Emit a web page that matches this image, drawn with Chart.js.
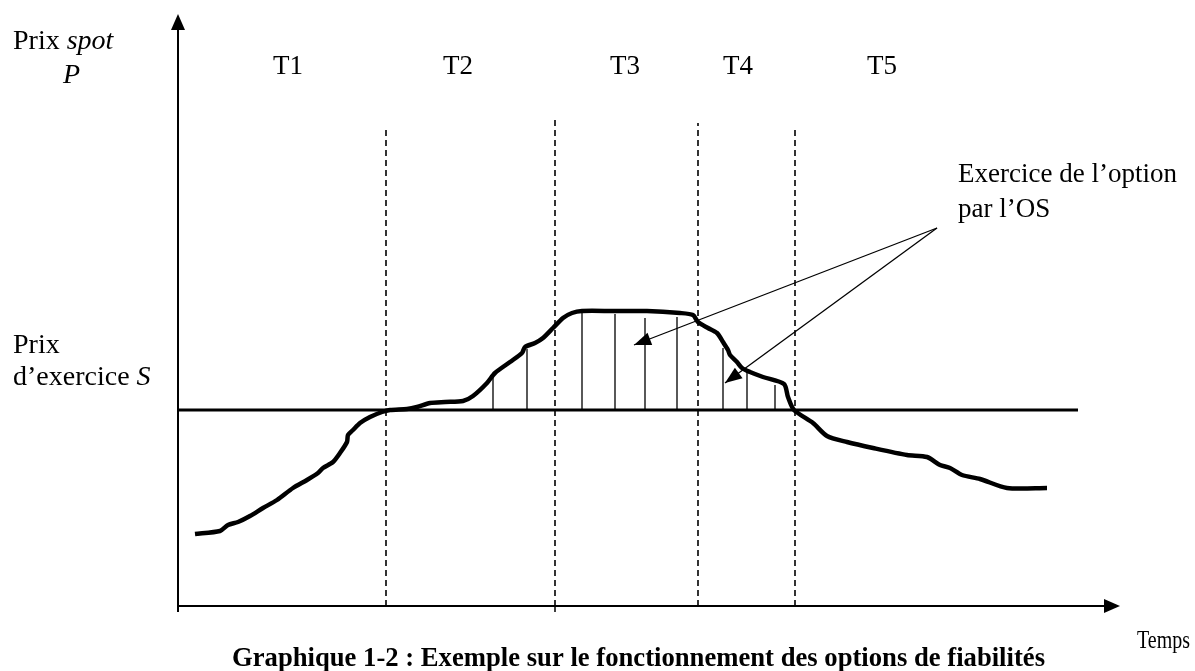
<!DOCTYPE html>
<html>
<head>
<meta charset="utf-8">
<script src="https://cdn.jsdelivr.net/npm/chart.js@4/dist/chart.umd.min.js"></script>
<style>
  html, body { margin: 0; padding: 0; background: #fff; }
  #wrap { width: 1195px; height: 671px; position: relative; }
</style>
</head>
<body>
<div id="wrap"><canvas id="chart"></canvas></div>
<script>
// Spot price curve (time, price)
const curveX = [17, 42, 50, 60, 72, 85, 99, 115, 129, 140, 145, 155, 162, 169, 170, 175, 182, 192, 204, 212,
    229, 239, 252, 267, 285, 295, 309, 317, 332, 344, 347, 357, 365, 375, 385, 394, 404, 435, 469, 502,
    515, 520, 530, 539, 545, 550, 552, 559, 564, 572, 585, 606, 610, 616, 635, 649, 669, 695, 729, 749,
    762, 772, 784, 802, 829, 869];
const curveY = [72, 75, 81, 84, 90, 98, 106, 118, 126, 133, 138, 144, 153, 164, 171, 176, 183, 189, 194, 196,
    197, 199, 203, 204, 205, 210, 223, 233, 244, 253, 259, 263, 268, 278, 288, 293, 295, 295, 295, 293,
    291, 284, 278, 273, 264, 256, 251, 244, 238, 234, 229, 222, 209, 196, 183, 170, 164, 158, 151, 149,
    141, 138, 131, 127, 118, 118];

// Strike price S
const strike = 196;
const strikeEnd = 900;

// Period boundaries (dashed) and their tops
const periodX = [208, 377, 520, 617];
const periodTop = [479, 488, 483, 479];
const periodLabels = ["T1", "T2", "T3", "T4", "T5"];
const periodLabelX = [110, 280, 447, 560, 704];

// Hatching where the option is exercised
const hatchX = [315, 349, 404, 437, 467, 499, 545, 569, 597];
const hatchTop = [229, 257, 293, 292, 288, 289, 258, 234, 221];

// Annotation arrows: shared start, two ends
const arrowFrom = { x: 759, y: 378 };
const arrowTo = [{ x: 456, y: 261 }, { x: 547, y: 223 }];

const X_MAX = 942;
const Y_MAX = 592;

// Build datasets
const curveData = curveX.map((x, i) => ({ x: x, y: curveY[i] }));

const hatchData = [];
hatchX.forEach((x, i) => {
    hatchData.push({ x: x, y: strike });
    hatchData.push({ x: x, y: hatchTop[i] });
    hatchData.push({ x: x, y: null });
});

const dashData = [];
periodX.forEach((x, i) => {
    dashData.push({ x: x, y: 0 });
    dashData.push({ x: x, y: periodTop[i] });
    dashData.push({ x: x, y: null });
});

const SERIF = '"Liberation Serif", "Times New Roman", serif';
const FS = 27;

function arrowHead(ctx, x1, y1, x2, y2, len, half) {
    const a = Math.atan2(y2 - y1, x2 - x1);
    ctx.beginPath();
    ctx.moveTo(x2, y2);
    ctx.lineTo(x2 - len * Math.cos(a) + half * Math.sin(a), y2 - len * Math.sin(a) - half * Math.cos(a));
    ctx.lineTo(x2 - len * Math.cos(a) - half * Math.sin(a), y2 - len * Math.sin(a) + half * Math.cos(a));
    ctx.closePath();
    ctx.fill();
}

// draw text squeezed to a given width
function fitText(ctx, str, x, y, width) {
    const w = ctx.measureText(str).width;
    ctx.save();
    ctx.translate(x, y);
    ctx.scale(width / w, 1);
    ctx.fillText(str, 0, 0);
    ctx.restore();
}

// Axes, arrows and texts
const decorations = {
    id: "decorations",
    afterDraw(chart) {
        const ctx = chart.ctx;
        const xs = chart.scales.x;
        const ys = chart.scales.y;
        const area = chart.chartArea;
        const ox = xs.getPixelForValue(0);
        const oy = ys.getPixelForValue(0);

        ctx.save();
        ctx.strokeStyle = "#000";
        ctx.fillStyle = "#000";

        // axes
        ctx.lineWidth = 2;
        ctx.beginPath();
        ctx.moveTo(ox, oy + 6);
        ctx.lineTo(ox, area.top + 12);
        ctx.moveTo(ox, oy);
        ctx.lineTo(area.right - 12, oy);
        ctx.stroke();
        arrowHead(ctx, ox, oy, ox, area.top, 16, 7);
        arrowHead(ctx, ox, oy, area.right, oy, 16, 7);

        // small ticks under the time axis
        ctx.lineWidth = 1.5;
        ctx.beginPath();
        [0, periodX[1]].forEach(v => {
            const px = xs.getPixelForValue(v);
            ctx.moveTo(px, oy);
            ctx.lineTo(px, oy + 6);
        });
        ctx.stroke();

        // annotation arrows
        ctx.lineWidth = 1.3;
        const fx = xs.getPixelForValue(arrowFrom.x);
        const fy = ys.getPixelForValue(arrowFrom.y);
        arrowTo.forEach(p => {
            const tx = xs.getPixelForValue(p.x);
            const ty = ys.getPixelForValue(p.y);
            ctx.beginPath();
            ctx.moveTo(fx, fy);
            ctx.lineTo(tx, ty);
            ctx.stroke();
            arrowHead(ctx, fx, fy, tx, ty, 17, 6.5);
        });

        // texts
        ctx.textBaseline = "alphabetic";
        ctx.textAlign = "left";
        ctx.font = "28px " + SERIF;
        ctx.fillText("Prix ", 13, 49);
        const w = ctx.measureText("Prix ").width;
        ctx.font = "italic 28px " + SERIF;
        ctx.fillText("spot", 13 + w, 49);
        ctx.fillText("P", 63, 83);

        ctx.font = "28px " + SERIF;
        ctx.fillText("Prix", 13, 353);
        ctx.fillText("d\u2019exercice ", 13, 385);
        const w2 = ctx.measureText("d\u2019exercice ").width;
        ctx.font = "italic 28px " + SERIF;
        ctx.fillText("S", 13 + w2, 385);

        ctx.font = FS + "px " + SERIF;
        ctx.textAlign = "center";
        periodLabels.forEach((t, i) => {
            ctx.fillText(t, xs.getPixelForValue(periodLabelX[i]), 74);
        });

        ctx.textAlign = "left";
        ctx.fillText("Exercice de l\u2019option", 958, 182);
        ctx.fillText("par l\u2019OS", 958, 217);

        ctx.font = "26px " + SERIF;
        fitText(ctx, "Temps", 1137, 648, 53);

        // caption (condensed bold)
        ctx.font = "bold 27px " + SERIF;
        fitText(ctx, "Graphique 1-2 : Exemple sur le fonctionnement des options de fiabilit\u00e9s", 232, 666, 813);
        ctx.restore();
    }
};

new Chart(document.getElementById("chart"), {
    type: "line",
    data: {
        datasets: [
            {
                label: "Périodes",
                data: dashData,
                borderColor: "#000",
                borderWidth: 1.6,
                borderDash: [6, 4],
                pointRadius: 0,
                spanGaps: false,
                tension: 0
            },
            {
                label: "Exercice",
                data: hatchData,
                borderColor: "#000",
                borderWidth: 1.3,
                pointRadius: 0,
                spanGaps: false,
                tension: 0
            },
            {
                label: "Prix d'exercice S",
                data: [{ x: 0, y: strike }, { x: strikeEnd, y: strike }],
                borderColor: "#000",
                borderWidth: 3,
                pointRadius: 0,
                tension: 0
            },
            {
                label: "Prix spot P",
                data: curveData,
                borderColor: "#000",
                borderWidth: 4.5,
                borderJoinStyle: "round",
                pointRadius: 0,
                tension: 0.25
            }
        ]
    },
    options: {
        responsive: true,
        maintainAspectRatio: false,
        animation: false,
        layout: { padding: { left: 178, right: 75, top: 14, bottom: 65 } },
        plugins: {
            legend: { display: false },
            tooltip: { enabled: false }
        },
        scales: {
            x: { type: "linear", display: false, min: 0, max: X_MAX },
            y: { type: "linear", display: false, min: 0, max: Y_MAX }
        },
        elements: { line: { clip: false } }
    },
    plugins: [decorations]
});
</script>
</body>
</html>
